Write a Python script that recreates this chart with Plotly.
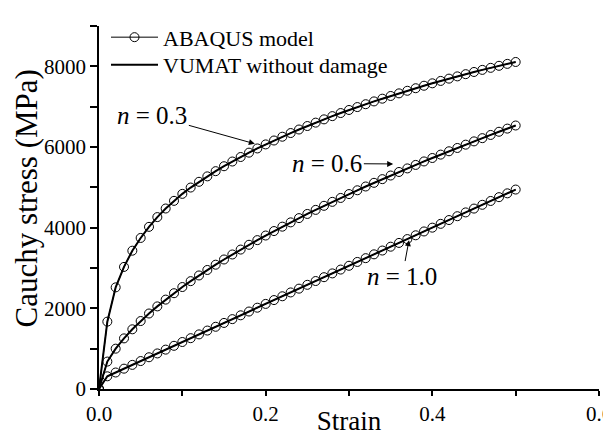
import plotly.graph_objects as go

strain = [0.00, 0.01, 0.02, 0.03, 0.04, 0.05, 0.06, 0.07, 0.08, 0.09,
          0.10, 0.11, 0.12, 0.13, 0.14, 0.15, 0.16, 0.17, 0.18, 0.19,
          0.20, 0.21, 0.22, 0.23, 0.24, 0.25, 0.26, 0.27, 0.28, 0.29,
          0.30, 0.31, 0.32, 0.33, 0.34, 0.35, 0.36, 0.37, 0.38, 0.39,
          0.40, 0.41, 0.42, 0.43, 0.44, 0.45, 0.46, 0.47, 0.48, 0.49, 0.50]

stress_n03 = [0, 1670, 2520, 3027, 3429, 3745, 4020, 4262, 4475, 4665,
              4838, 4995, 5137, 5272, 5401, 5523, 5640, 5752, 5860, 5964,
              6064, 6161, 6255, 6346, 6434, 6520, 6604, 6685, 6765, 6842,
              6918, 6990, 7061, 7130, 7198, 7265, 7330, 7394, 7457, 7519,
              7579, 7638, 7695, 7751, 7806, 7860, 7912, 7963, 8013, 8061, 8108]

stress_n06 = [0, 680, 1000, 1255, 1480, 1685, 1872, 2048, 2216, 2375,
              2528, 2674, 2815, 2951, 3082, 3211, 3335, 3457, 3576, 3691,
              3805, 3916, 4025, 4131, 4237, 4340, 4441, 4542, 4640, 4737,
              4833, 4927, 5021, 5112, 5203, 5293, 5381, 5469, 5556, 5642,
              5727, 5811, 5894, 5976, 6058, 6139, 6219, 6299, 6378, 6456, 6533]

stress_n10 = [0, 315, 409, 504, 598, 693, 787, 882, 976, 1071,
              1165, 1260, 1354, 1449, 1543, 1638, 1732, 1827, 1921, 2016,
              2110, 2205, 2299, 2394, 2488, 2583, 2677, 2772, 2866, 2961,
              3055, 3150, 3244, 3339, 3433, 3528, 3622, 3717, 3811, 3906,
              4000, 4095, 4189, 4284, 4378, 4473, 4567, 4662, 4756, 4851, 4945]

curves = [("0.3", stress_n03), ("0.6", stress_n06), ("1.0", stress_n10)]

x_ticks = [0.0, 0.2, 0.4, 0.6]
y_ticks = [0, 2000, 4000, 6000, 8000]

FONT = "Liberation Serif"

fig = go.Figure()

for i, (n, ys) in enumerate(curves):
    fig.add_trace(go.Scatter(
        x=strain, y=ys, mode="lines+markers",
        name="ABAQUS model", legendgroup="abaqus", showlegend=(i == 0),
        legend="legend",
        line=dict(color="black", width=1),
        marker=dict(symbol="circle-open", size=9, color="black",
                    line=dict(width=1, color="black")),
    ))
for i, (n, ys) in enumerate(curves):
    fig.add_trace(go.Scatter(
        x=strain, y=ys, mode="lines",
        name="VUMAT without damage", legendgroup="vumat", showlegend=(i == 0),
        legend="legend2",
        line=dict(color="black", width=2),
    ))

annots = [
    # text, tip x, tip y, text x, text y
    ("<i>n</i> = 0.3", 0.187, 6080, 0.064, 6790),
    ("<i>n</i> = 0.6", 0.353, 5580, 0.274, 5590),
    ("<i>n</i> = 1.0", 0.372, 3690, 0.364, 2800),
]
for txt, tx, ty, ax, ay in annots:
    fig.add_annotation(
        x=tx, y=ty, xref="x", yref="y",
        ax=ax, ay=ay, axref="x", ayref="y",
        text=txt, showarrow=True, arrowhead=2, arrowsize=1.2,
        arrowwidth=1, arrowcolor="black",
        font=dict(family=FONT, size=25, color="black"),
    )

# y-axis title
fig.add_annotation(
    text="Cauchy stress (MPa)", textangle=-90, showarrow=False,
    xref="paper", yref="paper", x=-0.146, y=0.525,
    xanchor="center", yanchor="middle",
    font=dict(family=FONT, size=31, color="black"),
)

legend_common = dict(xanchor="left", yanchor="middle", bgcolor="rgba(0,0,0,0)",
                     font=dict(family=FONT, size=22, color="black"),
                     borderwidth=0, itemwidth=47)

fig.update_layout(
    width=603, height=428,
    margin=dict(l=91, r=12, t=8, b=47),
    plot_bgcolor="white", paper_bgcolor="white",
    font=dict(family=FONT, size=21, color="black"),
    legend=dict(x=0.014, y=0.9687, **legend_common),
    legend2=dict(x=0.014, y=0.8927, **legend_common),
    showlegend=True,
)

fig.update_xaxes(
    range=[0, 0.6], tickvals=x_ticks, ticktext=[f"{v:.1f}" for v in x_ticks],
    showline=True, linecolor="black", linewidth=1.5,
    ticks="outside", ticklen=5, tickwidth=1.5, tickcolor="black",
    minor=dict(dtick=0.1, ticks="outside", ticklen=5, tickwidth=1.5, tickcolor="black"),
    showgrid=False, zeroline=False, automargin=False, ticklabeloverflow="allow",
    title=dict(text="Strain", font=dict(family=FONT, size=27), standoff=11),
    tickfont=dict(family=FONT, size=21),
)
fig.update_yaxes(
    range=[0, 9000], tickvals=y_ticks,
    showline=True, linecolor="black", linewidth=1.5,
    ticks="outside", ticklen=7, tickwidth=1.5, tickcolor="black",
    minor=dict(dtick=1000, ticks="outside", ticklen=7, tickwidth=1.5, tickcolor="black"),
    showgrid=False, zeroline=False, automargin=False, ticklabeloverflow="allow",
    tickfont=dict(family=FONT, size=21),
)

fig.write_html("out.html")
